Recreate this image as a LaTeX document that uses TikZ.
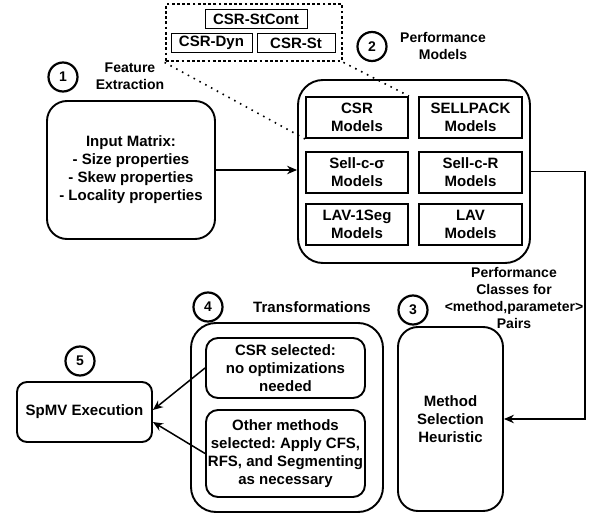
\documentclass[tikz,border=0pt]{standalone}
\usepackage{fontspec}
\setmainfont{Liberation Sans}
\usetikzlibrary{arrows.meta,calc}
\frenchspacing
\begin{document}
\begin{tikzpicture}[x=1pt,y=-1pt,
  font=\bfseries\fontsize{15}{18}\selectfont,
  rbox/.style={draw,line width=1.9pt,rounded corners=#1,align=center,inner sep=0pt},
  rbox/.default=20pt,
  model/.style={draw,line width=1.9pt,align=center,minimum width=102pt,minimum height=41pt,inner sep=0pt},
  variant/.style={draw,line width=0.9pt,minimum height=19pt,inner sep=0pt},
  stepnum/.style={draw,circle,line width=2.2pt,minimum size=29pt,inner sep=0pt,font=\bfseries\fontsize{14}{16}\selectfont},
  caption/.style={align=center,font=\bfseries\fontsize{14}{17}\selectfont},
  arr/.style={line width=1.5pt,-{Stealth[length=10pt,width=8.5pt]}},
  zoomline/.style={line width=1.6pt,dash pattern=on 1.6pt off 5pt}
]
\useasboundingbox (0,0) rectangle (595,513);

% CSR variants, grouped in a dotted frame
\node[draw,line width=2.8pt,dash pattern=on 2.8pt off 2.4pt,minimum width=176pt,minimum height=57pt] (group) at (254,32.5) {};
\node[variant,minimum width=102pt] (stcont) at (256,19) {CSR-StCont};
\node[variant,minimum width=81pt] (dyn) at (211.5,43) {CSR-Dyn};
\node[variant,minimum width=78pt] (st) at (296,43) {CSR-St};

% step 1: feature extraction
\node[stepnum] (c1) at (63,77) {1};
\node[caption] (featlbl) at (130,76) {Feature\\Extraction};
\node[rbox,minimum width=168pt,minimum height=138pt] (input) at (131,170)
  {Input Matrix:\\- Size properties\\- Skew properties\\- Locality properties};

% step 2: performance models
\node[stepnum] (c2) at (372,46.5) {2};
\node[caption] (perflbl) at (443,46) {Performance\\Models};
\node[rbox=25pt,minimum width=232pt,minimum height=183pt] (perf) at (414,171.5) {};
\node[model] (csr) at (357,117.5) {CSR\\Models};
\node[model,minimum width=103pt] (sellpack) at (470.5,117.5) {SELLPACK\\Models};
\node[model] (sellcs) at (357,172.5) {Sell-c-σ\\Models};
\node[model,minimum width=103pt] (sellcr) at (470.5,172.5) {Sell-c-R\\Models};
\node[model] (lavseg) at (357,224.5) {LAV-1Seg\\Models};
\node[model,minimum width=103pt] (lav) at (470.5,224.5) {LAV\\Models};

\draw[zoomline] (group.south west) -- (csr.south west);
\draw[zoomline] (group.south east) -- (csr.north east);

% step 3: method selection
\node[stepnum] (c3) at (413,310) {3};
\node[rbox,minimum width=105pt,minimum height=184pt] (method) at (450.5,419)
  {Method\\Selection\\Heuristic};
\node[caption] (classlbl) at (514,298)
  {Performance\\Classes for\\{<}method,parameter{>}\\Pairs};

% step 4: transformations
\node[stepnum] (c4) at (208,307) {4};
\node[caption,font=\bfseries\fontsize{15}{18}\selectfont] (translbl) at (312,307) {Transformations};
\node[rbox=25pt,minimum width=192pt,minimum height=189pt] (trans) at (287,417.5) {};
\node[rbox=12pt,minimum width=159pt,minimum height=60pt] (keep) at (285.5,368)
  {CSR selected:\\no optimizations\\needed};
\node[rbox=12pt,minimum width=159pt,minimum height=87pt] (apply) at (285.5,453.5)
  {Other methods\\selected: Apply CFS,\\RFS, and Segmenting\\as necessary};

% step 5: execution
\node[stepnum] (c5) at (80,361) {5};
\node[rbox=10pt,minimum width=135pt,minimum height=60pt] (spmv) at (84.5,412) {SpMV Execution};

% connectors
\draw[arr] (input.east) -- (input.east -| perf.west);
\coordinate (bend) at (585,171.5);
\draw[arr] (perf.east) -- (bend) |- (method.east);
\draw[arr] (keep.west) -- ([yshift=2pt]spmv.east);
\draw[arr] (apply.west) -- ([yshift=-10pt]spmv.east);
\end{tikzpicture}
\end{document}
